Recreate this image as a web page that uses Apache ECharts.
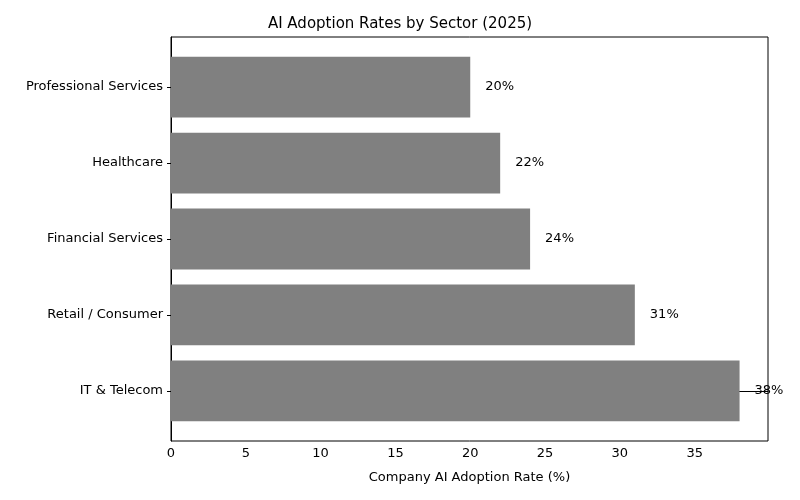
<!DOCTYPE html>
<html>
<head>
<meta charset="utf-8">
<script src="https://cdn.jsdelivr.net/npm/echarts@6/dist/echarts.min.js"></script>
<style>body{margin:0}#chart{width:800px;height:500px}</style>
</head>
<body>
<div id="chart"></div>
<script>
const sectors = ['IT & Telecom', 'Retail / Consumer', 'Financial Services', 'Healthcare', 'Professional Services'];
const rates = [38, 31, 24, 22, 20];
const xTicks = [0, 5, 10, 15, 20, 25, 30, 35];

const chart = echarts.init(document.getElementById('chart'));
const font = 'DejaVu Sans';
chart.setOption({
    animation: false,
    textStyle: { fontFamily: font },
    title: {
        text: 'AI Adoption Rates by Sector (2025)',
        left: 'center', top: 12,
        textStyle: { fontFamily: font, fontSize: 15, fontWeight: 'normal', color: '#000' }
    },
    grid: { left: 171, right: 32, top: 37, bottom: 59, show: true, borderColor: '#000', borderWidth: 1 },
    xAxis: {
        type: 'value', min: 0, max: 39.9,
        name: 'Company AI Adoption Rate (%)', nameLocation: 'middle', nameGap: 30,
        nameTextStyle: { fontFamily: font, fontSize: 13, color: '#000' },
        splitLine: { show: false },
        axisLine: { show: true, lineStyle: { color: '#000' } },
        axisTick: { show: true, customValues: xTicks, length: 4, lineStyle: { color: '#000' } },
        axisLabel: { customValues: xTicks, fontFamily: font, fontSize: 13, color: '#000', margin: 6 }
    },
    yAxis: {
        type: 'value', min: -0.66, max: 4.66,
        splitLine: { show: false },
        axisLine: { show: true, lineStyle: { color: '#000' } },
        axisTick: { show: true, customValues: [0, 1, 2, 3, 4], length: 4, inside: false, lineStyle: { color: '#000' } },
        axisLabel: {
            customValues: [0, 1, 2, 3, 4], fontFamily: font, fontSize: 13, color: '#000', margin: 8,
            formatter: v => sectors[Math.round(v)]
        }
    },
    series: [{
        type: 'custom',
        data: rates.map((r, i) => [r, i]),
        renderItem: (params, api) => {
            const start = api.coord([0, api.value(1) + 0.4]);
            const end = api.coord([api.value(0), api.value(1) - 0.4]);
            const mid = api.coord([api.value(0), api.value(1)]);
            return {
                type: 'group',
                children: [{
                    type: 'rect',
                    shape: { x: start[0], y: start[1], width: end[0] - start[0], height: end[1] - start[1] },
                    style: { fill: '#808080' }
                }, {
                    type: 'text',
                    style: {
                        x: mid[0] + 15, y: mid[1], text: api.value(0) + '%',
                        textVerticalAlign: 'middle', fontFamily: font, fontSize: 13, fill: '#000'
                    }
                }]
            };
        }
    }]
});
</script>
</body>
</html>
